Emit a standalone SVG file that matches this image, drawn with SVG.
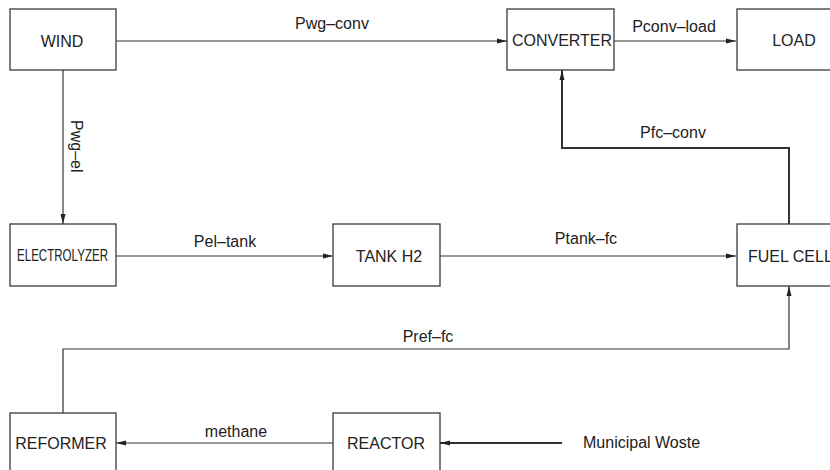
<svg xmlns="http://www.w3.org/2000/svg" width="830" height="470" viewBox="0 0 830 470">
<style>
.box{fill:#fff;stroke:#3a3a3a;stroke-width:1.3}
.t{font-family:"Liberation Sans",Arial,sans-serif;font-size:16px;fill:#222}
.c{text-anchor:middle}
.ln{fill:none;stroke:#333;stroke-width:1.2}
.thick{stroke-width:2}
</style>
<defs>
<marker id="ah" markerUnits="userSpaceOnUse" markerWidth="10" markerHeight="6" refX="10" refY="3" orient="auto">
<path d="M0,0.5 L10,3 L0,5.5 z" fill="#222"/>
</marker>
</defs>
<rect width="830" height="470" fill="#fff"/>
<g id="connectors">
<line class="ln" x1="116" y1="41" x2="507" y2="41" marker-end="url(#ah)"/>
<text class="t c" x="332" y="29">Pwg–conv</text>
<line class="ln" x1="614" y1="41" x2="736" y2="41" marker-end="url(#ah)"/>
<text class="t c" x="674" y="32">Pconv–load</text>
<line class="ln" x1="63" y1="70" x2="63" y2="224" marker-end="url(#ah)"/>
<text class="t" transform="translate(71,120) rotate(90)">Pwg–el</text>
<line class="ln" x1="116" y1="256" x2="333" y2="256" marker-end="url(#ah)"/>
<text class="t c" x="225" y="247">Pel–tank</text>
<line class="ln" x1="440" y1="256" x2="736" y2="256" marker-end="url(#ah)"/>
<text class="t c" x="586" y="244">Ptank–fc</text>
<polyline class="ln thick" points="789,224 789,148 562,148 562,70" marker-end="url(#ah)"/>
<text class="t c" x="673" y="138">Pfc–conv</text>
<polyline class="ln" points="63,413 63,349 789,349 789,286" marker-end="url(#ah)"/>
<text class="t c" x="428" y="342">Pref–fc</text>
<line class="ln" x1="333" y1="443" x2="116" y2="443" marker-end="url(#ah)"/>
<text class="t c" x="236" y="437">methane</text>
<line class="ln thick" x1="562" y1="443" x2="440" y2="443" marker-end="url(#ah)"/>
<text class="t" x="583" y="448">Municipal Woste</text>
</g>
<g id="wind"><rect class="box" x="10" y="9" width="106" height="61"/><text class="t c" x="62" y="47">WIND</text></g>
<g id="converter"><rect class="box" x="507" y="9" width="107" height="61"/><text class="t c" x="562" y="46">CONVERTER</text></g>
<g id="load"><rect class="box" x="737" y="9" width="110" height="61"/><text class="t c" x="794" y="46">LOAD</text></g>
<g id="electrolyzer"><rect class="box" x="10" y="224" width="106" height="62"/><text class="t" x="17" y="261" textLength="91" lengthAdjust="spacingAndGlyphs">ELECTROLYZER</text></g>
<g id="tank"><rect class="box" x="333" y="224" width="107" height="62"/><text class="t c" x="389" y="262">TANK H2</text></g>
<g id="fuelcell"><rect class="box" x="737" y="224" width="110" height="62"/><text class="t" x="748" y="262">FUEL CELL</text></g>
<g id="reformer"><rect class="box" x="10" y="413" width="106" height="70"/><text class="t c" x="61" y="449">REFORMER</text></g>
<g id="reactor"><rect class="box" x="333" y="413" width="107" height="70"/><text class="t c" x="386" y="449">REACTOR</text></g>
</svg>
